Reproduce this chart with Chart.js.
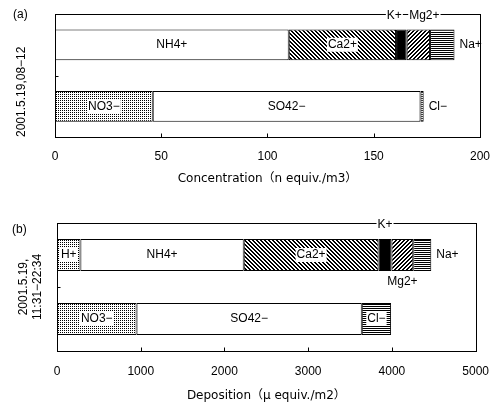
<!DOCTYPE html>
<html>
<head>
<meta charset="utf-8">
<script src="https://cdn.jsdelivr.net/npm/chart.js@4.4.1/dist/chart.umd.min.js"></script>
<style>
  body { margin: 0; background: #fff; width: 502px; height: 404px; position: relative; overflow: hidden; }
  .panel { position: absolute; left: 0; }
  .tag { position: absolute; font: 12px 'Liberation Sans', 'Noto Sans CJK JP', sans-serif; color: #000; }
</style>
</head>
<body>
<div class="panel" style="top:0"><canvas id="chartA" width="502" height="200"></canvas></div>
<div class="panel" style="top:200px"><canvas id="chartB" width="502" height="204"></canvas></div>
<div class="tag" style="left:13px;top:7px">(a)</div>
<div class="tag" style="left:12px;top:222px">(b)</div>
<script>
// two rows per panel: cations on top, anions below
var rows = ["cations", "anions"];

// (a) concentration, n equiv./m3
var concCationNames = ["NH4+", "Ca2+", "K+", "Mg2+", "Na+"];
var concCationValues = [110, 50.5, 5, 11, 11.5];
var concAnionNames = ["NO3−", "SO42−", "Cl−"];
var concAnionValues = [46, 126, 1.5];
var concTicks = [0, 50, 100, 150, 200];

// (b) deposition, µ equiv./m2
var depCationNames = ["H+", "NH4+", "Ca2+", "K+", "Mg2+", "Na+"];
var depCationValues = [280, 1950, 1610, 155, 260, 215];
var depAnionNames = ["NO3−", "SO42−", "Cl−"];
var depAnionValues = [950, 2690, 350];
var depTicks = [0, 1000, 2000, 3000, 4000, 5000];

var FONT = "'Liberation Sans', 'Noto Sans CJK JP', sans-serif";
var TITLE_FONT = "'DejaVu Sans', 'Noto Sans CJK JP', sans-serif";
Chart.defaults.font.family = FONT;
Chart.defaults.color = "#000";

function tile(w, h, paint) {
  var c = document.createElement("canvas");
  c.width = w; c.height = h;
  var g = c.getContext("2d");
  g.fillStyle = "#fff";
  g.fillRect(0, 0, w, h);
  g.fillStyle = "#000";
  paint(g);
  return g.createPattern(c, "repeat");
}

var fills = {
  white: "#fff",
  black: "#000",
  dots: tile(2, 2, function (g) { g.fillRect(0, 0, 1, 1); }),
  back: tile(4, 4, function (g) {
    for (var i = 0; i < 4; i++) { g.fillRect(i, i, 1, 1); g.fillRect((i + 1) % 4, i, 1, 1); }
  }),
  fwd: tile(4, 4, function (g) {
    for (var i = 0; i < 4; i++) { g.fillRect(3 - i, i, 1, 1); g.fillRect((4 - i) % 4, i, 1, 1); }
  }),
  hlines: tile(2, 2, function (g) { g.fillRect(0, 0, 2, 1); })
};

var ionFill = {
  "H+": "dots", "NH4+": "white", "Ca2+": "back", "K+": "black", "Mg2+": "fwd", "Na+": "hlines",
  "NO3−": "dots", "SO42−": "white", "Cl−": "hlines"
};

// where each ion name is written: inside, inside on white, on the top frame, under the bar, right of it
var labelModeA = {
  "NH4+": "in", "Ca2+": "box", "K+": "top", "Mg2+": "top", "Na+": "right",
  "NO3−": "box", "SO42−": "in", "Cl−": "right"
};
var labelModeB = {
  "H+": "box", "NH4+": "in", "Ca2+": "box", "K+": "top", "Mg2+": "below", "Na+": "right",
  "NO3−": "box", "SO42−": "in", "Cl−": "box"
};
var nudgeA = { "K+": -7, "Mg2+": 6 };

var ionLabels = {
  id: "ionLabels",
  afterDraw: function (chart, args, opts) {
    var ctx = chart.ctx, area = chart.chartArea;
    var xs = chart.scales.x, ys = chart.scales.y;
    ctx.save();
    ctx.strokeStyle = "#000";
    ctx.lineWidth = 1;
    var L = Math.round(area.left) + 0.5, R = Math.round(area.right) + 0.5;
    var T = Math.round(area.top) + 0.5, B = Math.round(area.bottom) + 0.5;
    ctx.strokeRect(L, T, R - L, B - T);
    // tick marks point into the plot
    ctx.beginPath();
    xs.ticks.forEach(function (t) {
      var px = Math.round(xs.getPixelForValue(t.value)) + 0.5;
      ctx.moveTo(px, B); ctx.lineTo(px, B - 4);
    });
    var mid = Math.round((ys.getPixelForValue(0) + ys.getPixelForValue(1)) / 2) + 0.5;
    ctx.moveTo(L, mid); ctx.lineTo(L + 3, mid);
    ctx.stroke();

    ctx.font = "12px " + FONT;
    ctx.textAlign = "center";
    ctx.textBaseline = "middle";
    chart.data.datasets.forEach(function (ds, i) {
      var meta = chart.getDatasetMeta(i);
      meta.data.forEach(function (bar, j) {
        if (ds.data[j] == null) return;
        var p = bar.getProps(["x", "base", "y", "height"], true);
        var left = Math.min(p.x, p.base), right = Math.max(p.x, p.base);
        var text = ds.label, w = ctx.measureText(text).width;
        var mode = opts.modes[text], cx = (left + right) / 2, cy = p.y, boxed = false;
        if (mode === "box") boxed = true;
        else if (mode === "top") { cx += (opts.nudge[text] || 0); cy = area.top + 2; boxed = true; }
        else if (mode === "below") { cy = p.y + p.height / 2 + 11; }
        else if (mode === "right") { cx = right + 5 + w / 2; }
        if (boxed) {
          ctx.fillStyle = "#fff";
          ctx.fillRect(cx - w / 2 - 1, cy - 7, w + 2, 14);
        }
        ctx.fillStyle = "#000";
        ctx.fillText(text, cx, cy);
      });
    });
    ctx.restore();
  }
};

function buildPanel(id, cNames, cValues, aNames, aValues, ticks, cfg) {
  var datasets = [];
  cNames.forEach(function (n, k) {
    datasets.push({ label: n, data: [cValues[k], null], backgroundColor: fills[ionFill[n]] });
  });
  aNames.forEach(function (n, k) {
    datasets.push({ label: n, data: [null, aValues[k]], backgroundColor: fills[ionFill[n]] });
  });
  datasets.forEach(function (d) {
    d.borderColor = "#000";
    d.borderWidth = 1;
    d.borderSkipped = false;
    d.barPercentage = 0.5;
    d.categoryPercentage = 1;
  });
  return new Chart(document.getElementById(id), {
    type: "bar",
    data: { labels: rows, datasets: datasets },
    plugins: [ionLabels],
    options: {
      indexAxis: "y",
      responsive: false,
      animation: false,
      layout: { padding: { top: cfg.top, right: cfg.right, left: 0, bottom: 0 } },
      plugins: {
        legend: { display: false },
        tooltip: { enabled: false },
        ionLabels: { modes: cfg.modes, nudge: cfg.nudge }
      },
      scales: {
        x: {
          stacked: true,
          min: ticks[0],
          max: ticks[ticks.length - 1],
          afterBuildTicks: function (s) { s.ticks = ticks.map(function (v) { return { value: v }; }); },
          afterFit: function (s) { s.height = cfg.xHeight; },
          ticks: {
            font: { size: 12 }, padding: cfg.tickPad, maxRotation: 0, color: "#000",
            callback: function (v) { return String(v); }
          },
          grid: { display: false, drawTicks: false },
          border: { display: false },
          title: {
            display: true, text: cfg.xTitle, font: { size: 12, family: TITLE_FONT },
            padding: { top: 0, bottom: cfg.titlePad }, color: "#000"
          }
        },
        y: {
          stacked: true,
          afterFit: function (s) { s.width = cfg.yWidth; },
          ticks: { display: false },
          grid: { display: false, drawTicks: false },
          border: { display: false },
          title: {
            display: true, text: cfg.yTitle, align: cfg.yAlign,
            font: { size: 12, lineHeight: 1.15 }, padding: { top: cfg.yTitlePad, bottom: 0 }, color: "#000"
          }
        }
      }
    }
  });
}

buildPanel("chartA", concCationNames, concCationValues, concAnionNames, concAnionValues, concTicks, {
  top: 14, right: 19, xHeight: 63, yWidth: 55, tickPad: 12, titlePad: 14,
  xTitle: "Concentration（n equiv./m3）",
  yTitle: "2001.5.19,08−12", yAlign: "start", yTitlePad: 15,
  modes: labelModeA, nudge: nudgeA
});

buildPanel("chartB", depCationNames, depCationValues, depAnionNames, depAnionValues, depTicks, {
  top: 23, right: 18, xHeight: 53, yWidth: 57, tickPad: 13, titlePad: 1,
  xTitle: "Deposition（μ equiv./m2）",
  yTitle: ["2001.5.19,", "11:31−22:34"], yAlign: "center", yTitlePad: 17,
  modes: labelModeB, nudge: {}
});
</script>
</body>
</html>
